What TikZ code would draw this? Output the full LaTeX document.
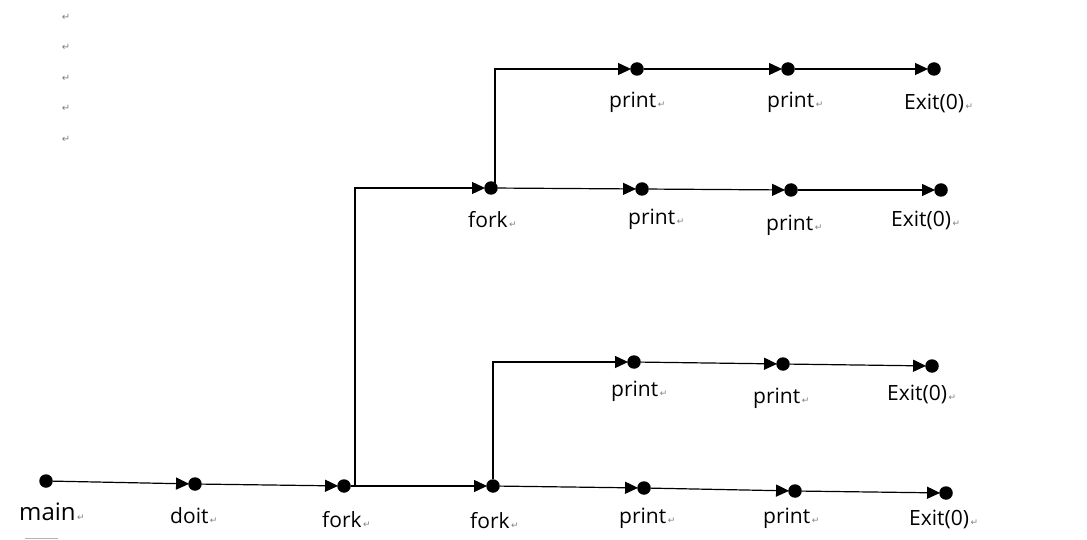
\documentclass[tikz,border=0pt]{standalone}
\usepackage{fontspec}
\setmainfont{Open Sans}
\newfontfamily\dvfont{DejaVu Sans}
\usetikzlibrary{arrows.meta}
\definecolor{markgray}{RGB}{128,128,128}
\newcommand\rmk{{\dvfont\fontsize{9}{9}\selectfont\color{markgray}\,↵}}
\tikzset{
  dot/.style={circle,fill=black,inner sep=0pt,minimum size=13.5pt},
  arr/.style={-{Triangle[length=13pt,width=12pt]},line width=1.2pt,shorten >=-1pt},
  lbl/.style={anchor=base west,inner sep=0pt,font=\fontsize{21}{21}\selectfont},
  mk/.style={anchor=center,inner sep=0pt,font=\dvfont\fontsize{10}{10}\selectfont,text=markgray}
}
\begin{document}
\begin{tikzpicture}[x=1pt,y=-1pt]
\useasboundingbox (0,0) rectangle (1087,540);
% paragraph marks
\foreach \yy [count=\i] in {17,47,78,108,139} \node[mk] (m\i) at (66,\yy) {↵};
\draw[markgray!60,line width=0.6pt] (25,538) -- (58,538);
% dots
\node[dot] (main) at (46,481) {};
\node[dot] (doit) at (195,484) {};
\node[dot] (forka) at (344,486) {};
\node[dot] (forkb) at (493,486) {};
\node[dot] (forkc) at (491,188) {};
\node[dot] (pa1) at (637,69) {};
\node[dot] (pa2) at (788,69) {};
\node[dot] (ea) at (934,69) {};
\node[dot] (pb1) at (642,189) {};
\node[dot] (pb2) at (791,190) {};
\node[dot] (eb) at (941,190) {};
\node[dot] (pc1) at (634,362) {};
\node[dot] (pc2) at (783,364) {};
\node[dot] (ec) at (932,366) {};
\node[dot] (pd1) at (644,488) {};
\node[dot] (pd2) at (795,491) {};
\node[dot] (ed) at (946,493) {};
% coordinates for elbows
\coordinate (ca) at (355,188);
\coordinate (cb) at (495,188);
% connectors
\draw[arr] (main) -- (doit);
\draw[arr] (doit) -- (forka);
\draw[arr] (forka) -- (forkb);
\draw[arr] (forka.east) -| (ca) -- (forkc);
\draw[arr] (forkb) |- (pc1);
\draw[arr] (forkb) -- (pd1);
\draw[arr] (cb) |- (pa1);
\draw[arr] (forkc) -- (pb1);
\draw[arr] (pa1) -- (pa2);
\draw[arr] (pa2) -- (ea);
\draw[arr] (pb1) -- (pb2);
\draw[arr] (pb2) -- (eb);
\draw[arr] (pc1) -- (pc2);
\draw[arr] (pc2) -- (ec);
\draw[arr] (pd1) -- (pd2);
\draw[arr] (pd2) -- (ed);
% labels
\node[lbl,font=\fontsize{24}{24}\selectfont] (lmain) at (19,520) {main\rmk};
\node[lbl] (ldoit) at (170,523) {doit\rmk};
\node[lbl] (lforka) at (322,527) {fork\rmk};
\node[lbl] (lforkb) at (470,528) {fork\rmk};
\node[lbl] (lforkc) at (468,228) {fork\rmk};
\node[lbl] (lpa1) at (609,108) {print\rmk};
\node[lbl] (lpa2) at (767,108) {print\rmk};
\node[lbl] (lea) at (904,110) {Exit(0)\rmk};
\node[lbl] (lpb1) at (628,225) {print\rmk};
\node[lbl] (lpb2) at (766,230) {print\rmk};
\node[lbl] (leb) at (891,227) {Exit(0)\rmk};
\node[lbl] (lpc1) at (611,396) {print\rmk};
\node[lbl] (lpc2) at (753,403) {print\rmk};
\node[lbl] (lec) at (887,400) {Exit(0)\rmk};
\node[lbl] (lpd1) at (619,523) {print\rmk};
\node[lbl] (lpd2) at (763,523) {print\rmk};
\node[lbl] (led) at (909,525) {Exit(0)\rmk};
\end{tikzpicture}
\end{document}
